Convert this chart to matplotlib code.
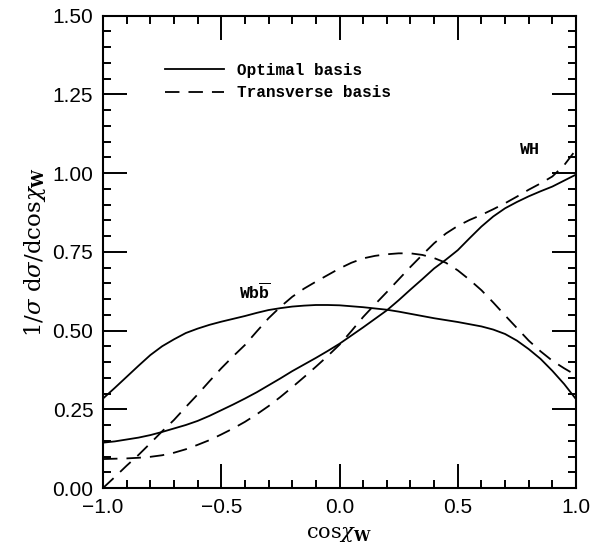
import numpy as np
import matplotlib
matplotlib.use('Agg')
import matplotlib.pyplot as plt
from matplotlib.ticker import MultipleLocator, FuncFormatter

plt.rcParams['mathtext.fontset'] = 'custom'
plt.rcParams['mathtext.rm'] = 'DejaVu Serif'
plt.rcParams['mathtext.it'] = 'DejaVu Serif:italic'
plt.rcParams['mathtext.bf'] = 'DejaVu Serif:bold'
plt.rcParams['mathtext.tt'] = 'Liberation Mono:bold'

# x grid
cosx = [-1.00, -0.95, -0.90, -0.85, -0.80, -0.75, -0.70, -0.65, -0.60, -0.55, -0.50,
        -0.45, -0.40, -0.35, -0.30, -0.25, -0.20, -0.15, -0.10, -0.05, 0.00,
        0.05, 0.10, 0.15, 0.20, 0.25, 0.30, 0.35, 0.40, 0.45, 0.50,
        0.55, 0.60, 0.65, 0.70, 0.75, 0.80, 0.85, 0.90, 0.95, 1.00]

# optimal basis (solid)
wh_opt = [0.144, 0.148, 0.154, 0.160, 0.168, 0.178, 0.189, 0.200, 0.213, 0.229, 0.247,
          0.265, 0.284, 0.304, 0.326, 0.348, 0.371, 0.392, 0.413, 0.435, 0.458,
          0.484, 0.510, 0.537, 0.564, 0.596, 0.630, 0.663, 0.697, 0.725, 0.755,
          0.793, 0.830, 0.862, 0.888, 0.908, 0.926, 0.942, 0.957, 0.976, 0.995]
wbb_opt = [0.284, 0.318, 0.353, 0.388, 0.422, 0.450, 0.472, 0.492, 0.506, 0.518, 0.528,
           0.537, 0.546, 0.556, 0.565, 0.571, 0.576, 0.579, 0.581, 0.581, 0.580,
           0.577, 0.574, 0.570, 0.566, 0.560, 0.553, 0.546, 0.539, 0.533, 0.527,
           0.520, 0.513, 0.503, 0.489, 0.468, 0.441, 0.410, 0.372, 0.330, 0.282]

# transverse basis (dashed)
wh_tr = [0.092, 0.093, 0.094, 0.096, 0.099, 0.104, 0.112, 0.123, 0.137, 0.152, 0.170,
         0.189, 0.210, 0.234, 0.260, 0.289, 0.320, 0.352, 0.385, 0.419, 0.455,
         0.498, 0.543, 0.583, 0.622, 0.662, 0.702, 0.740, 0.777, 0.808, 0.832,
         0.851, 0.867, 0.885, 0.904, 0.925, 0.947, 0.967, 0.989, 1.025, 1.074]
wbb_tr = [0.000, 0.035, 0.071, 0.105, 0.142, 0.180, 0.216, 0.257, 0.297, 0.339, 0.380,
          0.418, 0.454, 0.497, 0.539, 0.575, 0.607, 0.633, 0.655, 0.676, 0.697,
          0.715, 0.729, 0.737, 0.742, 0.745, 0.745, 0.740, 0.730, 0.715, 0.691,
          0.661, 0.628, 0.589, 0.548, 0.508, 0.468, 0.434, 0.404, 0.380, 0.358]

fig = plt.figure(figsize=(6.15, 5.5), dpi=100)
ax = fig.add_axes([0.1675, 0.1127, 0.7691, 0.8591])

dash = (0, (8, 5))
ax.plot(cosx, wh_opt, color='k', lw=1.3, label='Optimal basis')
ax.plot(cosx, wbb_opt, color='k', lw=1.3)
ax.plot(cosx, wh_tr, color='k', lw=1.3, ls=dash, label='Transverse basis')
ax.plot(cosx, wbb_tr, color='k', lw=1.3, ls=dash)

ax.set_xlim(-1, 1)
ax.set_ylim(0, 1.5)


def minus_fmt(nd):
    return FuncFormatter(lambda v, pos: ('%.*f' % (nd, v)).replace('-', '\u2212'))


ax.xaxis.set_major_locator(MultipleLocator(0.5))
ax.xaxis.set_minor_locator(MultipleLocator(0.1))
ax.yaxis.set_major_locator(MultipleLocator(0.25))
ax.yaxis.set_minor_locator(MultipleLocator(0.05))
ax.xaxis.set_major_formatter(minus_fmt(1))
ax.yaxis.set_major_formatter(minus_fmt(2))
ax.tick_params(which='both', direction='in', top=True, right=True, width=1.4)
ax.tick_params(which='major', length=17, pad=7)
ax.tick_params(which='minor', length=6)
for lab in ax.get_xticklabels() + ax.get_yticklabels():
    lab.set_family('Liberation Sans')
    lab.set_fontsize(15)
for sp in ax.spines.values():
    sp.set_linewidth(1.5)

ax.set_xlabel(r'cos$\chi_{\mathbf{W}}$', fontsize=15, family='DejaVu Serif', labelpad=6)
ax.set_ylabel(r'1/$\sigma$ d$\sigma$/dcos$\chi_{\mathbf{W}}$', fontsize=16.5,
              family='DejaVu Serif', labelpad=3)

lbl = dict(fontsize=12, family='Liberation Mono', weight='bold', va='baseline')
ax.text(0.806, 1.06, 'WH', ha='center', **lbl)
ax.text(-0.357, 0.60, r'Wb$\overline{\mathtt{b}}$', ha='center', **lbl)

ax.legend(loc='upper left', bbox_to_anchor=(0.1, 0.93), frameon=False,
          handlelength=3.7, handletextpad=0.8, labelspacing=0.45,
          prop={'family': 'Liberation Mono', 'weight': 'bold', 'size': 11.5})

fig.savefig('out.png', dpi=100)
